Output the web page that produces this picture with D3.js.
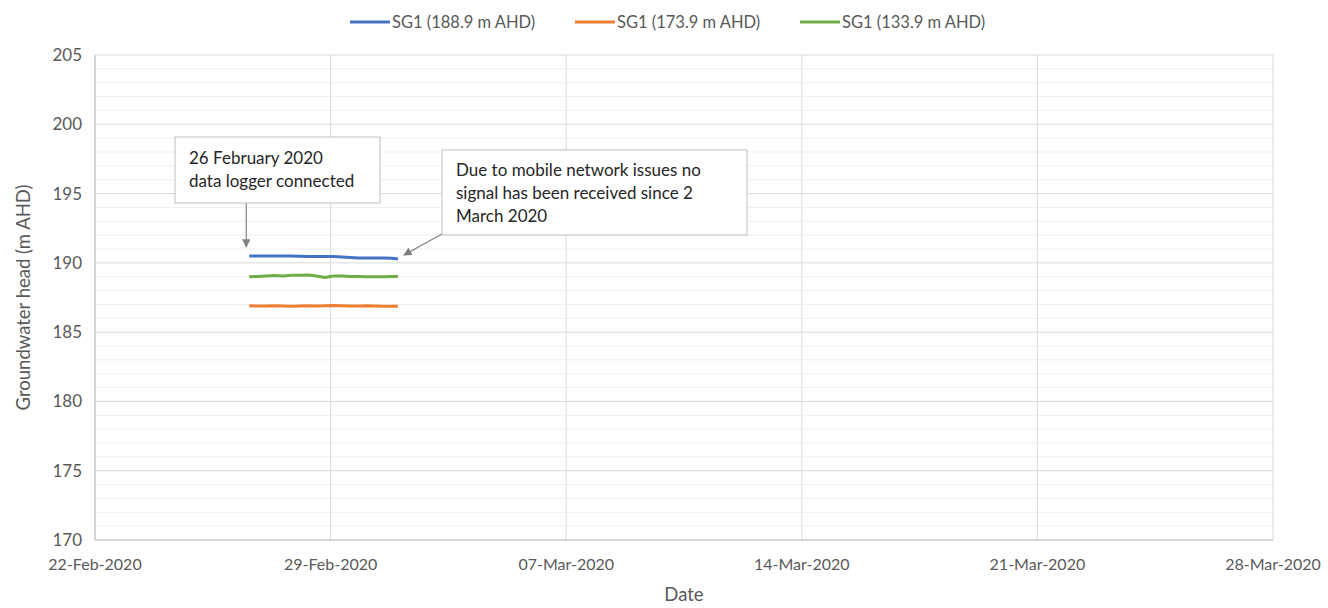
<!DOCTYPE html>
<html><head><meta charset="utf-8">
<script src="https://cdn.jsdelivr.net/npm/d3@7"></script>
<style>body{margin:0;background:#fff;}svg{font-family:Lato,"Open Sans",sans-serif;}</style>
</head><body><svg id="c" width="1328" height="608"></svg>
<script>
const seriesNames = ["SG1 (188.9 m AHD)", "SG1 (173.9 m AHD)", "SG1 (133.9 m AHD)"];
const seriesColors = ["#4472C4", "#ED7D31", "#70AD47"];
const times = ["2020-02-26T14:00","2020-02-26T20:00","2020-02-27T02:00","2020-02-27T08:00","2020-02-27T14:00","2020-02-27T20:00","2020-02-28T02:00","2020-02-28T08:00","2020-02-28T14:00","2020-02-28T20:00","2020-02-29T02:00","2020-02-29T08:00","2020-02-29T14:00","2020-02-29T20:00","2020-03-01T02:00","2020-03-01T08:00","2020-03-01T14:00","2020-03-01T20:00","2020-03-02T00:00"];
const blue   = [190.5,190.5,190.5,190.5,190.5,190.5,190.48,190.45,190.45,190.45,190.45,190.42,190.38,190.35,190.35,190.35,190.35,190.33,190.28];
const orange = [186.9,186.88,186.88,186.9,186.88,186.86,186.88,186.9,186.88,186.9,186.92,186.9,186.88,186.88,186.9,186.88,186.86,186.86,186.86];
const green  = [189.0,189.02,189.05,189.08,189.05,189.1,189.1,189.12,189.05,188.95,189.05,189.05,189.02,189.02,189.0,189.0,189.0,189.02,189.02];
const xTicks = ["2020-02-22","2020-02-29","2020-03-07","2020-03-14","2020-03-21","2020-03-28"];
const xTickLabels = ["22-Feb-2020","29-Feb-2020","07-Mar-2020","14-Mar-2020","21-Mar-2020","28-Mar-2020"];
const yTicks = [170,175,180,185,190,195,200,205];
const notes = [
  {lines:["26 February 2020","data logger connected"], t:"2020-02-26T14:00", v:190.5},
  {lines:["Due to mobile network issues no","signal has been received since 2","March 2020"], t:"2020-03-02T00:00", v:190.28}
];

const parse = d3.isoParse;
const svg = d3.select("#c");
const m = {l:95, r:1273, t:55, b:540};
const x = d3.scaleTime().domain([parse(xTicks[0]), parse(xTicks[xTicks.length-1])]).range([m.l, m.r]);
const y = d3.scaleLinear().domain([170,205]).range([m.b, m.t]);
const txt = "#595959";

// minor gridlines
const g = svg.append("g");
g.selectAll(".minor").data(d3.range(170,206,1).filter(v=>v%5!==0)).join("line")
  .attr("x1",m.l).attr("x2",m.r).attr("y1",d=>y(d)).attr("y2",d=>y(d))
  .attr("stroke","#efefef").attr("stroke-width",1);
// major horizontal
g.selectAll(".hmaj").data(yTicks).join("line")
  .attr("x1",m.l).attr("x2",m.r).attr("y1",d=>y(d)).attr("y2",d=>y(d))
  .attr("stroke","#d9d9d9").attr("stroke-width",1);
// vertical
g.selectAll(".vmaj").data(xTicks).join("line")
  .attr("x1",d=>x(parse(d))).attr("x2",d=>x(parse(d))).attr("y1",m.t).attr("y2",m.b)
  .attr("stroke","#d9d9d9").attr("stroke-width",1);
// axes lines
svg.append("line").attr("x1",m.l).attr("x2",m.r).attr("y1",m.b).attr("y2",m.b).attr("stroke","#bfbfbf");
svg.append("line").attr("x1",m.l).attr("x2",m.l).attr("y1",m.t).attr("y2",m.b).attr("stroke","#bfbfbf");

// tick labels
svg.selectAll(".yl").data(yTicks).join("text")
  .attr("x",m.l-13).attr("y",d=>y(d)).attr("dy","0.35em").attr("text-anchor","end")
  .attr("font-size",17).attr("fill",txt).text(d=>d);
svg.selectAll(".xl").data(xTicks).join("text")
  .attr("x",d=>x(parse(d))).attr("y",m.b+30).attr("text-anchor","middle")
  .attr("font-size",16).attr("fill",txt).text((d,i)=>xTickLabels[i]);

// axis titles
svg.append("text").attr("x",684).attr("y",601).attr("text-anchor","middle").attr("font-size",18.5).attr("fill",txt).text("Date");
svg.append("text").attr("transform",`translate(30,${(m.t+m.b)/2}) rotate(-90)`).attr("text-anchor","middle")
  .attr("font-size",18.5).attr("fill",txt).text("Groundwater head (m AHD)");

// series
const allSeries = [blue, orange, green];
const line = d3.line().x((d,i)=>x(parse(times[i]))).y(d=>y(d)).curve(d3.curveLinear);
allSeries.forEach((s,k)=>{
  svg.append("path").datum(s).attr("d",line).attr("fill","none")
    .attr("stroke",seriesColors[k]).attr("stroke-width",3).attr("stroke-linejoin","round");
});

// legend
const legX = [350, 575, 800];
seriesNames.forEach((n,i)=>{
  svg.append("line").attr("x1",legX[i]).attr("x2",legX[i]+40).attr("y1",22).attr("y2",22)
    .attr("stroke",seriesColors[i]).attr("stroke-width",3);
  svg.append("text").attr("x",legX[i]+42).attr("y",22).attr("dy","0.35em").attr("font-size",16.5).attr("fill",txt).text(n);
});

// callouts
svg.append("defs").append("marker").attr("id","ar").attr("viewBox","0 0 10 10").attr("refX",9).attr("refY",5)
  .attr("markerWidth",7).attr("markerHeight",7).attr("orient","auto")
  .append("path").attr("d","M0,0L10,5L0,10z").attr("fill","#7f7f7f");

// note 1
const n1 = notes[0];
svg.append("line").attr("x1",x(parse(n1.t))-3).attr("y1",203).attr("x2",x(parse(n1.t))-3).attr("y2",y(n1.v)-9)
  .attr("stroke","#7f7f7f").attr("stroke-width",1.2).attr("marker-end","url(#ar)");
svg.append("rect").attr("x",175).attr("y",137).attr("width",205).attr("height",66)
  .attr("fill","#fff").attr("stroke","#bfbfbf");
n1.lines.forEach((l,i)=>svg.append("text").attr("x",189).attr("y",164+i*23).attr("font-size",17).attr("fill","#262626").text(l));

// note 2
const n2 = notes[1];
svg.append("line").attr("x1",442).attr("y1",234).attr("x2",x(parse(n2.t))+6).attr("y2",y(n2.v)-4)
  .attr("stroke","#7f7f7f").attr("stroke-width",1.2).attr("marker-end","url(#ar)");
svg.append("rect").attr("x",442).attr("y",150).attr("width",305).attr("height",85)
  .attr("fill","#fff").attr("stroke","#bfbfbf");
n2.lines.forEach((l,i)=>svg.append("text").attr("x",456).attr("y",176+i*23).attr("font-size",17).attr("fill","#262626").text(l));
</script></body></html>
